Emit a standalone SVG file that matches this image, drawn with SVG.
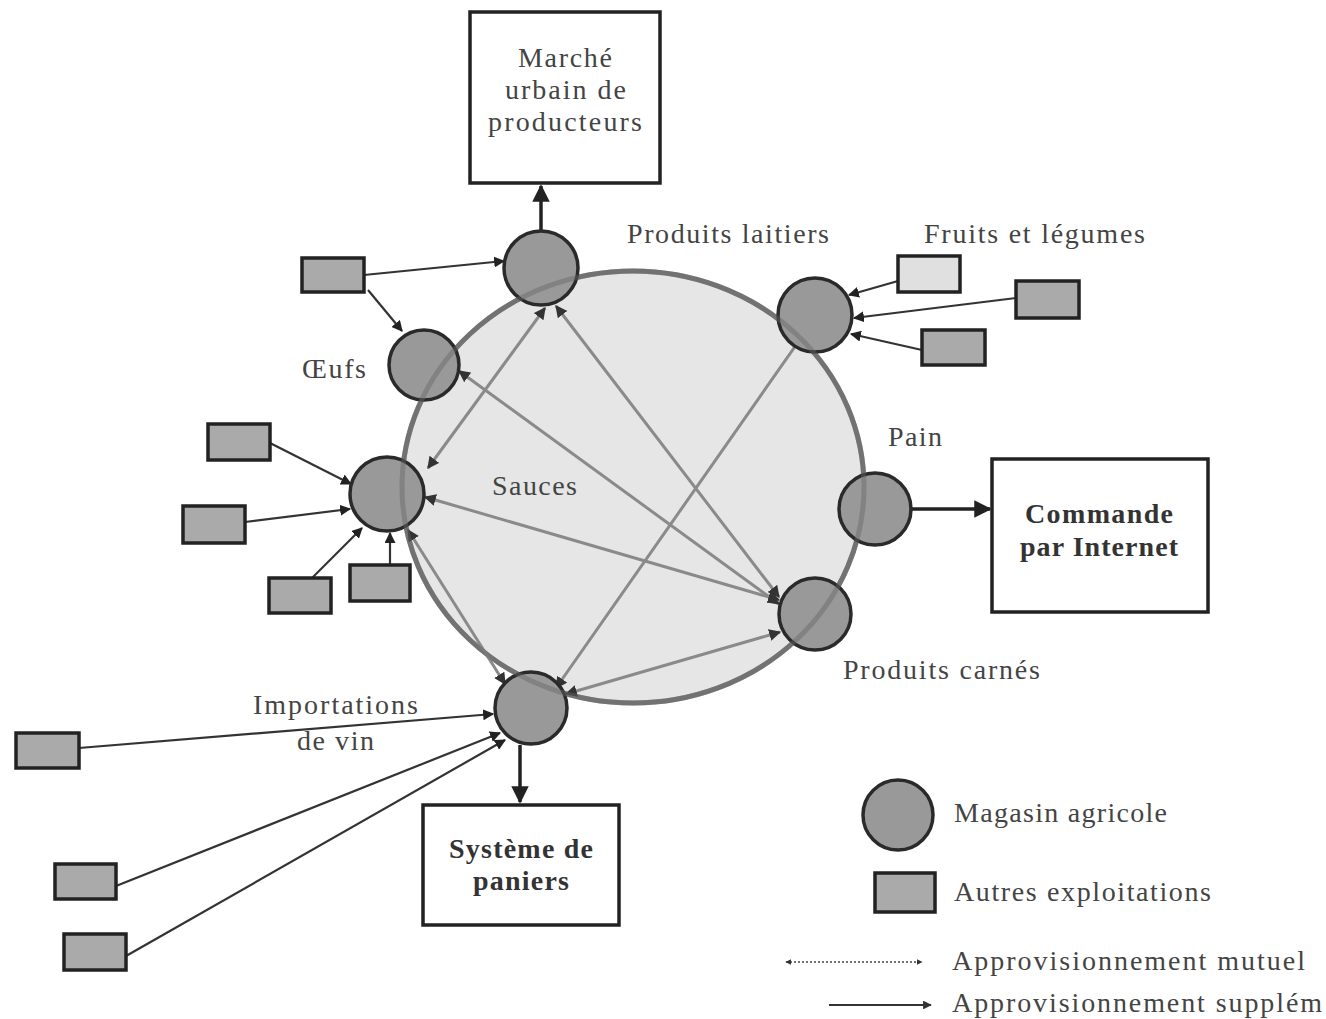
<svg xmlns="http://www.w3.org/2000/svg" width="1326" height="1019" viewBox="0 0 1326 1019">
<defs>
<marker id="ah" viewBox="0 0 10 10" refX="9" refY="5" markerWidth="5" markerHeight="5" orient="auto-start-reverse"><path d="M0,0 L10,5 L0,10 z" fill="#222"/></marker>
<marker id="ahm" viewBox="0 0 10 10" refX="9" refY="5" markerWidth="4" markerHeight="4" orient="auto-start-reverse"><path d="M0,0 L10,5 L0,10 z" fill="#333"/></marker>
<style>
.t{font-family:"Liberation Serif","Times New Roman",serif;font-size:28px;fill:#444}
.b{font-weight:bold;fill:#333}
.node circle{fill:#999;stroke:#2a2a2a;stroke-width:3.5}
.box{fill:#fff;stroke:#222;stroke-width:3.5}
.sm{fill:#aaa;stroke:#222;stroke-width:3.5}
.sup{stroke:#333;stroke-width:2.2;fill:none;marker-end:url(#ah)}
.thick{stroke:#222;stroke-width:3.5;fill:none;marker-end:url(#ah)}
.mut{stroke:#8a8a8a;stroke-width:3;fill:none;marker-start:url(#ahm);marker-end:url(#ahm)}
</style>
</defs>
<rect width="1326" height="1019" fill="#fff"/>
<ellipse cx="633" cy="487" rx="231" ry="216" fill="#e6e6e6" stroke="#7d7d7d" stroke-width="5"/>
<g id="connectors">
<line class="mut" x1="545" y1="308" x2="428" y2="468"/>
<line class="mut" x1="556" y1="306" x2="779" y2="597"/>
<line class="mut" x1="459" y1="371" x2="779" y2="604"/>
<line class="mut" x1="425" y1="497" x2="779" y2="600"/>
<line class="mut" x1="808" y1="328" x2="556" y2="688"/>
<line class="mut" x1="408" y1="530" x2="505" y2="684"/>
<line class="mut" x1="780" y1="632" x2="566" y2="694"/>
<line class="sup" x1="364" y1="275" x2="504" y2="261"/>
<line class="sup" x1="368" y1="290" x2="402" y2="331"/>
<line class="thick" x1="541" y1="231" x2="541" y2="186"/>
<line class="sup" x1="898" y1="281" x2="849" y2="295"/>
<line class="sup" x1="1016" y1="298" x2="854" y2="318"/>
<line class="sup" x1="922" y1="350" x2="851" y2="334"/>
<line class="thick" x1="912" y1="509" x2="990" y2="509"/>
<line class="sup" x1="270" y1="443" x2="351" y2="484"/>
<line class="sup" x1="245" y1="522" x2="350" y2="509"/>
<line class="sup" x1="312" y1="578" x2="362" y2="528"/>
<line class="sup" x1="390" y1="565" x2="390" y2="533"/>
<line class="sup" x1="79" y1="748" x2="493" y2="714"/>
<line class="sup" x1="116" y1="886" x2="500" y2="733"/>
<line class="sup" x1="126" y1="956" x2="505" y2="740"/>
<line class="thick" x1="520" y1="745" x2="520" y2="802"/>
</g>
<g id="marche"><rect class="box" x="470" y="12" width="190" height="171"/><text class="t" x="518" y="67" textLength="94">Marché</text><text class="t" x="505" y="99" textLength="121">urbain de</text><text class="t" x="488" y="131" textLength="154">producteurs</text></g>
<g id="commande"><rect class="box" x="992" y="459" width="216" height="153"/><text class="t b" x="1025" y="523" textLength="148">Commande</text><text class="t b" x="1020" y="556" textLength="158">par Internet</text></g>
<g id="paniers"><rect class="box" x="423" y="805" width="196" height="120"/><text class="t b" x="449" y="858" textLength="144">Système de</text><text class="t b" x="473" y="890" textLength="96">paniers</text></g>
<g id="n-laitiers" class="node"><circle cx="541" cy="268" r="37"/></g>
<g id="n-oeufs" class="node"><circle cx="424" cy="365" r="35"/></g>
<g id="n-sauces" class="node"><circle cx="387" cy="494" r="37"/></g>
<g id="n-fruits" class="node"><circle cx="815" cy="315" r="37"/></g>
<g id="n-pain" class="node"><circle cx="875" cy="509" r="36"/></g>
<g id="n-carnes" class="node"><circle cx="815" cy="614" r="36"/></g>
<g id="n-vin" class="node"><circle cx="531" cy="708" r="36"/></g>
<ellipse cx="633" cy="487" rx="231" ry="216" fill="none" stroke="#666" stroke-opacity="0.45" stroke-width="5"/>
<g id="farms">
<rect class="sm" x="302" y="258" width="62" height="34"/>
<rect class="sm" x="898" y="256" width="62" height="36" style="fill:#e0e0e0"/>
<rect class="sm" x="1016" y="281" width="63" height="37"/>
<rect class="sm" x="922" y="330" width="63" height="35"/>
<rect class="sm" x="208" y="424" width="62" height="36"/>
<rect class="sm" x="183" y="506" width="62" height="37"/>
<rect class="sm" x="269" y="578" width="62" height="35"/>
<rect class="sm" x="350" y="565" width="60" height="36"/>
<rect class="sm" x="16" y="733" width="63" height="35"/>
<rect class="sm" x="55" y="864" width="61" height="35"/>
<rect class="sm" x="64" y="934" width="62" height="36"/>
</g>
<g id="labels">
<text class="t" x="627" y="243" textLength="202">Produits laitiers</text>
<text class="t" x="924" y="243" textLength="221">Fruits et légumes</text>
<text class="t" x="302" y="378" textLength="64">Œufs</text>
<text class="t" x="492" y="495" textLength="85">Sauces</text>
<text class="t" x="888" y="446" textLength="54">Pain</text>
<text class="t" x="843" y="679" textLength="197">Produits carnés</text>
<text class="t" x="253" y="714" textLength="165">Importations</text>
<text class="t" x="297" y="750" textLength="77">de vin</text>
</g>
<g id="legend">
<circle cx="898" cy="815" r="35" fill="#999" stroke="#2a2a2a" stroke-width="3.5"/>
<text class="t" x="954" y="822" textLength="213">Magasin agricole</text>
<rect class="sm" x="875" y="873" width="60" height="39"/>
<text class="t" x="954" y="901" textLength="257">Autres exploitations</text>
<line x1="786" y1="962" x2="922" y2="962" stroke="#444" stroke-width="1.5" stroke-dasharray="2,2" marker-start="url(#ahm)" marker-end="url(#ahm)"/>
<text class="t" x="952" y="970" textLength="353">Approvisionnement mutuel</text>
<line x1="829" y1="1005" x2="931" y2="1005" stroke="#333" stroke-width="2.2" marker-end="url(#ahm)"/>
<text class="t" x="952" y="1012" textLength="370">Approvisionnement supplém</text>
</g>
</svg>
